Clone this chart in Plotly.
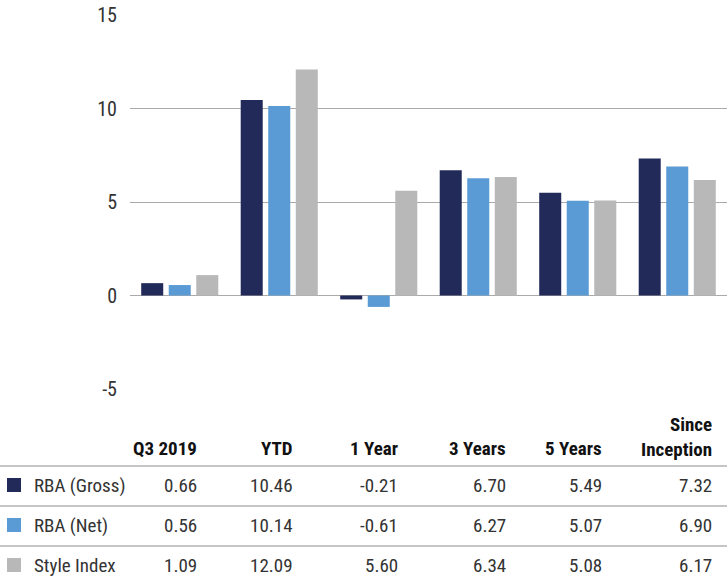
import plotly.graph_objects as go

categories = ["Q3 2019", "YTD", "1 Year", "3 Years", "5 Years", "Since Inception"]
header_labels = ["Q3 2019", "YTD", "1 Year", "3 Years", "5 Years", "Since<br>Inception"]
series_names = ["RBA (Gross)", "RBA (Net)", "Style Index"]
gross = [0.66, 10.46, -0.21, 6.70, 5.49, 7.32]
net = [0.56, 10.14, -0.61, 6.27, 5.07, 6.90]
style_index = [1.09, 12.09, 5.60, 6.34, 5.08, 6.17]
y_ticks = [-5, 0, 5, 10, 15]

colors = ["#212a58", "#5b9bd5", "#b8b8b8"]
series_values = [gross, net, style_index]

W, H = 727, 582
L, R, T, B = 130, 0, 15, 193
PW, PH = W - L - R, H - T - B
FONT = "Liberation Sans Narrow, Roboto Condensed, Arial Narrow, Roboto, sans-serif"

def px(x):
    return (x - L) / PW

def py(y):
    return (H - B - y) / PH

fig = go.Figure()
for name, vals, c in zip(series_names, series_values, colors):
    fig.add_trace(go.Bar(x=categories, y=vals, name=name, marker=dict(color=c, line=dict(width=0)),
                         showlegend=False))

fig.update_layout(
    width=W, height=H,
    margin=dict(l=L, r=R, t=T, b=B),
    paper_bgcolor="white", plot_bgcolor="white",
    barmode="group", bargap=0.17, bargroupgap=0.2,
    font=dict(family=FONT, color="#333333", size=19),
    xaxis=dict(showticklabels=False, showgrid=False, zeroline=False, showline=False),
    yaxis=dict(range=[-5, 15], tickvals=y_ticks, ticktext=[str(t) for t in y_ticks],
               showgrid=True, gridcolor="#aaaaaa", gridwidth=1,
               zeroline=True, zerolinecolor="#aaaaaa", zerolinewidth=1,
               tickfont=dict(family=FONT, size=20, color="#333333"), ticklabelstandoff=12,
               showline=False),
)

# table
col_right = [199, 295, 400, 508, 604, 714]
header_y = 448
row_y = [485, 525, 565]
line_y = [466, 506, 546]

annotations = []
for lab, xr in zip(header_labels, col_right):
    yy = header_y if "<br>" not in lab else header_y - 11
    annotations.append(dict(x=px(xr), y=py(yy), xref="paper", yref="paper", text="<b>" + lab + "</b>",
                            xanchor="right", yanchor="middle", align="right", showarrow=False,
                            font=dict(family=FONT, size=19, color="#111111")))
for name, vals, c, ry in zip(series_names, series_values, colors, row_y):
    annotations.append(dict(x=px(32), y=py(ry), xref="paper", yref="paper", text=name,
                            xanchor="left", yanchor="middle", showarrow=False,
                            font=dict(family=FONT, size=19, color="#333333")))
    for v, xr in zip(vals, col_right):
        annotations.append(dict(x=px(xr), y=py(ry), xref="paper", yref="paper", text=f"{v:.2f}",
                                xanchor="right", yanchor="middle", showarrow=False,
                                font=dict(family=FONT, size=19, color="#333333")))

shapes = []
for ly in line_y:
    shapes.append(dict(type="line", xref="paper", yref="paper", x0=px(0), x1=px(W), y0=py(ly), y1=py(ly),
                       line=dict(color="#8c8c8c", width=1)))
for c, ry in zip(colors, row_y):
    shapes.append(dict(type="rect", xref="paper", yref="paper", x0=px(7), x1=px(21), y0=py(ry - 7), y1=py(ry + 7),
                       fillcolor=c, line=dict(width=0)))

fig.update_layout(annotations=annotations, shapes=shapes)
fig.write_html("out.html", config={"displayModeBar": False},
               post_script="document.body.style.margin='0';document.body.style.overflow='hidden';")
